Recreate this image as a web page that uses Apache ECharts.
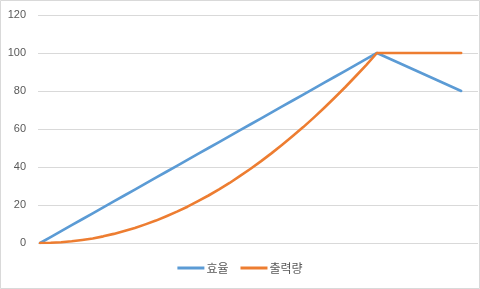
<!DOCTYPE html>
<html><head><meta charset="utf-8">
<script src="https://cdn.jsdelivr.net/npm/echarts@6/dist/echarts.min.js"></script>
<style>html,body{margin:0;padding:0;background:#fff}#c{width:480px;height:289px}</style>
</head><body><div id="c"></div>
<script>
const xValues = [0,2.5,5,7.5,10,12.5,15,17.5,20,22.5,25,27.5,30,32.5,35,37.5,40,42.5,45,47.5,50,52.5,55,57.5,60,62.5,65,67.5,70,72.5,75,77.5,80,82.5,85,87.5,90,92.5,95,97.5,100];
const efficiency = [0,3.1,6.3,9.4,12.5,15.6,18.8,21.9,25,28.1,31.3,34.4,37.5,40.6,43.8,46.9,50,53.1,56.3,59.4,62.5,65.6,68.8,71.9,75,78.1,81.3,84.4,87.5,90.6,93.8,96.9,100,97.5,95,92.5,90,87.5,85,82.5,80];
const output = [0,0.1,0.4,0.9,1.6,2.4,3.5,4.8,6.3,7.9,9.8,11.8,14.1,16.5,19.1,22,25,28.2,31.6,35.3,39.1,43.1,47.3,51.7,56.3,61,66,71.2,76.6,82.1,87.9,93.8,100,100,100,100,100,100,100,100,100];
const seriesNames = ['효율','출력량'];
const yTicks = [0,20,40,60,80,100,120];

const font = '"Noto Sans CJK KR","Liberation Sans",sans-serif';
const chart = echarts.init(document.getElementById('c'));
chart.setOption({
  animation:false,
  backgroundColor:'#fff',
  graphic:[{type:'rect',shape:{x:0.5,y:0.5,width:479,height:288},style:{fill:'none',stroke:'#d9d9d9',lineWidth:1},silent:true}],
  grid:{left:38,right:2,top:15,bottom:46,containLabel:false},
  legend:{bottom:10,left:'center',itemWidth:27,itemHeight:3,itemGap:12,icon:'rect',
    textStyle:{color:'#595959',fontSize:12,fontFamily:font,padding:[0,0,0,-3]},
    data:seriesNames},
  xAxis:{type:'value',min:-0.5,max:104,show:false},
  yAxis:{type:'value',min:yTicks[0],max:yTicks[yTicks.length-1],interval:20,
    axisLine:{show:false},axisTick:{show:false},
    axisLabel:{color:'#595959',fontSize:11,fontFamily:'"Liberation Sans",sans-serif',margin:12},
    splitLine:{lineStyle:{color:'#d9d9d9',width:1}}},
  series:[
    {name:seriesNames[0],type:'line',data:xValues.map((x,i)=>[x,efficiency[i]]),showSymbol:false,symbol:'none',
      lineStyle:{color:'#5b9bd5',width:2.6,cap:'round',join:'round'},itemStyle:{color:'#5b9bd5'}},
    {name:seriesNames[1],type:'line',data:xValues.map((x,i)=>[x,output[i]]),showSymbol:false,symbol:'none',
      lineStyle:{color:'#ed7d31',width:2.6,cap:'round',join:'round'},itemStyle:{color:'#ed7d31'}}
  ]
});
</script></body></html>
